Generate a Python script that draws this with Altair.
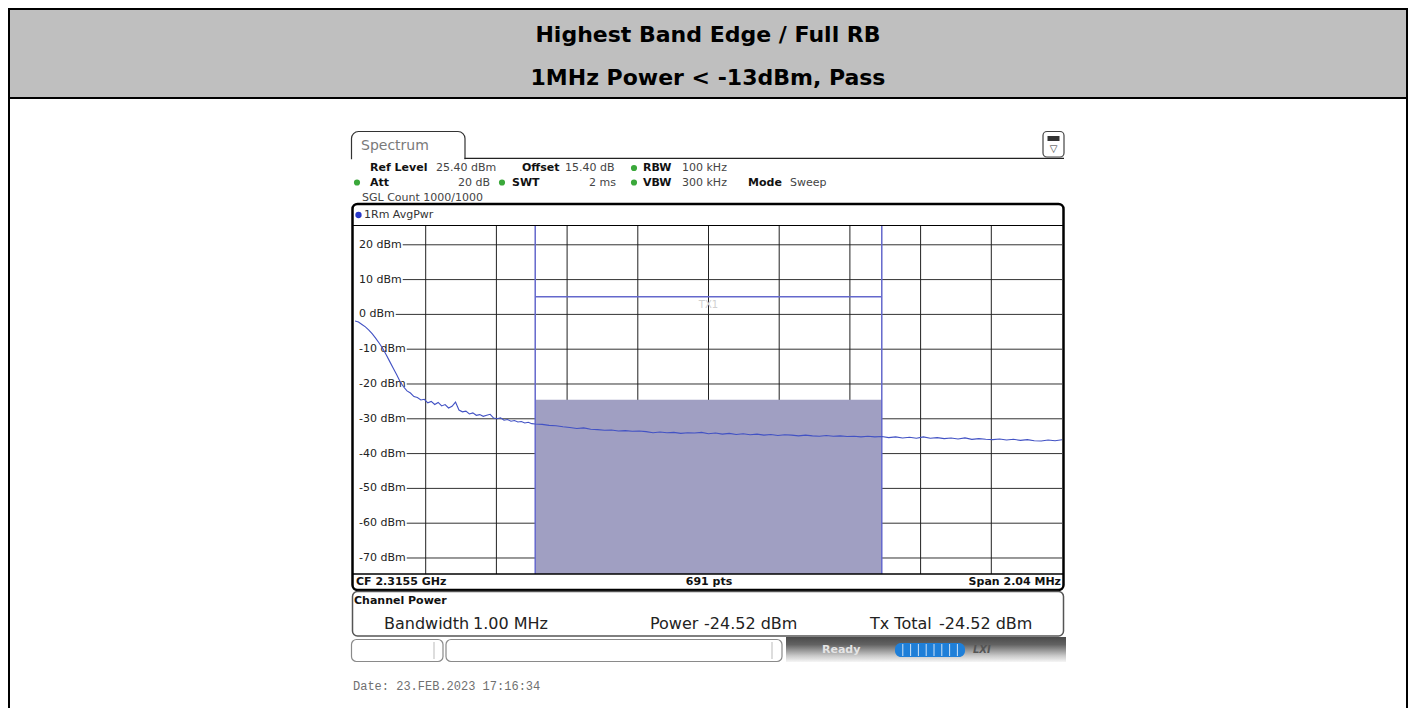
import altair as alt
import pandas as pd

# ---------------- data ----------------
CENTER_MHZ = 2315.5
SPAN_MHZ = 2.04
Y_TOP_DBM = 25.4
Y_BOTTOM_DBM = -74.6

trace_offset_mhz = [
    0.000, 0.010, 0.020, 0.030, 0.040, 0.050, 0.060, 0.070, 0.080, 0.090,
    0.100, 0.110, 0.120, 0.130, 0.140, 0.150, 0.160, 0.170, 0.180, 0.190,
    0.200, 0.210, 0.220, 0.230, 0.240, 0.250, 0.260, 0.270, 0.280, 0.290,
    0.300, 0.310, 0.320, 0.330, 0.340, 0.350, 0.360, 0.370, 0.380, 0.390,
    0.400, 0.410, 0.420, 0.430, 0.440, 0.450, 0.460, 0.470, 0.480, 0.490,
    0.500, 0.510, 0.520, 0.540, 0.560, 0.580, 0.600, 0.620, 0.640, 0.660,
    0.680, 0.700, 0.720, 0.740, 0.760, 0.780, 0.800, 0.820, 0.840, 0.860,
    0.880, 0.900, 0.920, 0.940, 0.960, 0.980, 1.000, 1.020, 1.040, 1.060,
    1.080, 1.100, 1.120, 1.140, 1.160, 1.180, 1.200, 1.220, 1.240, 1.260,
    1.280, 1.300, 1.320, 1.340, 1.360, 1.380, 1.400, 1.420, 1.440, 1.460,
    1.480, 1.500, 1.520, 1.540, 1.560, 1.580, 1.600, 1.620, 1.640, 1.660,
    1.680, 1.700, 1.720, 1.740, 1.760, 1.780, 1.800, 1.820, 1.840, 1.860,
    1.880, 1.900, 1.920, 1.940, 1.960, 1.980, 2.000, 2.020, 2.040,
]
trace_dbm = [
    -1.9, -2.2, -2.9, -3.6, -4.5, -5.6, -6.9, -8.3, -9.8, -11.6,
    -13.5, -15.4, -17.3, -19.3, -20.8, -22.0, -22.6, -23.6, -23.9, -24.6,
    -24.4, -25.4, -25.0, -25.9, -25.3, -26.3, -25.9, -26.9, -26.4, -25.2,
    -27.5, -28.0, -27.8, -28.6, -28.3, -29.0, -28.8, -29.3, -29.0, -28.7,
    -29.8, -30.0, -29.7, -30.4, -30.2, -30.7, -30.5, -30.9, -30.8, -31.2,
    -31.0, -31.4, -31.5, -31.6, -31.9, -32.0, -32.3, -32.5, -32.8, -32.6,
    -33.0, -33.1, -33.3, -33.2, -33.5, -33.4, -33.6, -33.5, -33.7, -34.0,
    -33.8, -34.0, -33.9, -34.2, -34.0, -34.1, -33.9, -34.3, -34.1, -34.4,
    -34.2, -34.5, -34.3, -34.6, -34.4, -34.7, -34.5, -34.8, -34.6, -34.7,
    -34.9, -34.7, -34.9, -35.0, -34.8, -35.0, -34.9, -35.1, -35.0, -35.2,
    -35.0, -35.2, -35.1, -35.4, -35.2, -35.5, -35.3, -35.6, -35.2, -35.6,
    -35.4, -35.7, -35.5, -35.8, -35.5, -35.9, -35.7, -35.9, -36.0, -35.8,
    -36.1, -35.9, -36.2, -36.0, -36.3, -36.4, -36.1, -36.3, -36.0,
]

channel_edges_mhz = [2315.0, 2316.0]
channel_power_dbm = -24.52
channel_line_dbm = 5.1

level_ticks_dbm = [20, 10, 0, -10, -20, -30, -40, -50, -60, -70]
level_tick_labels = ["20 dBm", "10 dBm", "0 dBm", "-10 dBm", "-20 dBm",
                     "-30 dBm", "-40 dBm", "-50 dBm", "-60 dBm", "-70 dBm"]
freq_grid_mhz = [2314.684, 2314.888, 2315.092, 2315.296, 2315.500,
                 2315.704, 2315.908, 2316.112, 2316.316]

# ---------------- layout ----------------
F0 = CENTER_MHZ - SPAN_MHZ / 2
F1 = CENTER_MHZ + SPAN_MHZ / 2
OX, OY = 355, 226          # page position of plot area
PW, PH = 707, 348          # plot area size
FONT = "DejaVu Sans"


def px(p):
    return p - OX


def py(q):
    return q - OY


ONE = pd.DataFrame({"k": [0]})


def R(x1, y1, x2, y2, **kw):
    return alt.Chart(ONE).mark_rect(**kw).encode(
        x=alt.value(px(x1)), x2=alt.value(px(x2)),
        y=alt.value(py(y1)), y2=alt.value(py(y2)))


def L(x1, y1, x2, y2, color="#000", width=1.0, **kw):
    return alt.Chart(ONE).mark_rule(color=color, strokeWidth=width, **kw).encode(
        x=alt.value(px(x1)), x2=alt.value(px(x2)),
        y=alt.value(py(y1)), y2=alt.value(py(y2)))


def T(x, y, s, size=11, weight="normal", color="#222", align="left", font=FONT, **kw):
    return alt.Chart(ONE).mark_text(
        align=align, baseline="middle", font=font, fontSize=size,
        fontWeight=weight, color=color, **kw).encode(
        x=alt.value(px(x)), y=alt.value(py(y)), text=alt.value(s))


def DOT(x, y, color="#3aa83a", size=38):
    return alt.Chart(ONE).mark_circle(color=color, size=size, opacity=1).encode(
        x=alt.value(px(x)), y=alt.value(py(y)))


xs = alt.Scale(domain=[F0, F1], nice=False, zero=False)
ys = alt.Scale(domain=[Y_BOTTOM_DBM, Y_TOP_DBM], nice=False, zero=False)

layers = []

# ---- document table header ----
layers += [
    R(10, 10, 1406, 97, color="#BFBFBF"),
    L(8, 9, 1408, 9, width=2),
    L(8, 98, 1408, 98, width=2),
    L(9, 8, 9, 708, width=2),
    L(1407, 8, 1407, 708, width=2),
    T(708, 35, "Highest Band Edge / Full RB", size=22, weight="bold", color="#000", align="center"),
    T(708, 78, "1MHz Power < -13dBm, Pass", size=22, weight="bold", color="#000", align="center"),
]

# ---- spectrum window frames ----
layers += [
    R(351.5, 131.5, 465, 170, color="white", stroke="#333", strokeWidth=1.2,
      cornerRadiusTopLeft=7, cornerRadiusTopRight=7),
    R(349, 159.2, 467, 172, color="white"),
    L(464.5, 158.3, 1064, 158.3, color="#222", width=1.3),
    R(1043, 131.5, 1064, 157, color="white", stroke="#444", strokeWidth=1.2, cornerRadius=4),
    R(1047.5, 136, 1059.5, 141, color="#333"),
    T(1053.5, 149, "▽", size=10, color="#333", align="center"),
    T(361, 146, "Spectrum", size=14, color="#7a7a7a"),
    # diagram frame
    R(352.5, 204, 1063.5, 590, color="white", stroke="#000", strokeWidth=2.5, cornerRadius=5),
    R(352.5, 591.5, 1063.5, 636, color="white", stroke="#555", strokeWidth=1.5, cornerRadius=5),
]

# ---- info texts ----
y1, y2, y3 = 168, 182.5, 197.5
layers += [
    T(370, y1, "Ref Level", weight="bold", color="#111"),
    T(436, y1, "25.40 dBm", color="#444"),
    T(522, y1, "Offset", weight="bold", color="#111"),
    T(565, y1, "15.40 dB", color="#444"),
    DOT(634, y1),
    T(643, y1, "RBW", weight="bold", color="#111"),
    T(682, y1, "100 kHz", color="#444"),
    DOT(357, y2),
    T(370, y2, "Att", weight="bold", color="#111"),
    T(490, y2, "20 dB", color="#444", align="right"),
    DOT(502, y2),
    T(512, y2, "SWT", weight="bold", color="#111"),
    T(616, y2, "2 ms", color="#444", align="right"),
    DOT(634, y2),
    T(643, y2, "VBW", weight="bold", color="#111"),
    T(682, y2, "300 kHz", color="#444"),
    T(748, y2, "Mode", weight="bold", color="#111"),
    T(790, y2, "Sweep", color="#444"),
    T(362, y3, "SGL Count 1000/1000", color="#444"),
    DOT(358.5, 215, color="#2838c8", size=40),
    T(364, 215, "1Rm AvgPwr", color="#333"),
    L(352, 225.5, 1063, 225.5, color="#000", width=1.2),
]

# ---- grid ----
CW = {"0": .636, "1": .636, "2": .636, "3": .636, "4": .636, "5": .636, "6": .636,
      "7": .636, "8": .636, "9": .636, " ": .318, "d": .635, "B": .686, "m": .974, "-": .361}


def label_end_mhz(lbl):
    end_page = 359 + 11 * sum(CW.get(c, .6) for c in lbl) + 1
    return F0 + (end_page - OX) / PW * SPAN_MHZ


hgrid = pd.DataFrame({
    "lvl": level_ticks_dbm,
    "label": level_tick_labels,
    "x0": [label_end_mhz(l) for l in level_tick_labels],
    "x1": [F1] * len(level_ticks_dbm),
})
vgrid = pd.DataFrame({"f": freq_grid_mhz})

layers += [
    alt.Chart(hgrid).mark_rule(color="#333", strokeWidth=1).encode(
        x=alt.X("x0:Q", scale=xs, axis=None), x2="x1:Q",
        y=alt.Y("lvl:Q", scale=ys, axis=None)),
    alt.Chart(vgrid).mark_rule(color="#222", strokeWidth=1).encode(
        x=alt.X("f:Q", scale=xs, axis=None), y=alt.value(0), y2=alt.value(PH)),
    alt.Chart(hgrid).mark_text(align="left", baseline="middle", font=FONT, fontSize=11,
                               color="#222").encode(
        x=alt.value(px(359)), y=alt.Y("lvl:Q", scale=ys, axis=None), text="label:N"),
]

# ---- channel power region ----
chan = pd.DataFrame({"f0": [channel_edges_mhz[0]], "f1": [channel_edges_mhz[1]],
                     "p0": [Y_BOTTOM_DBM], "p1": [channel_power_dbm],
                     "lim": [channel_line_dbm], "fc": [sum(channel_edges_mhz) / 2],
                     "lab": ["TX1"]})
edges = pd.DataFrame({"f": channel_edges_mhz})
layers += [
    alt.Chart(chan).mark_rect(color="#A09FC2").encode(
        x=alt.X("f0:Q", scale=xs, axis=None), x2="f1:Q",
        y=alt.Y("p0:Q", scale=ys, axis=None), y2="p1:Q"),
    alt.Chart(edges).mark_rule(color="#6468cc", strokeWidth=1.5).encode(
        x=alt.X("f:Q", scale=xs, axis=None), y=alt.value(0), y2=alt.value(PH)),
    alt.Chart(chan).mark_rule(color="#6468cc", strokeWidth=1.5).encode(
        x=alt.X("f0:Q", scale=xs, axis=None), x2="f1:Q",
        y=alt.Y("lim:Q", scale=ys, axis=None)),
    alt.Chart(chan).mark_text(font=FONT, fontSize=10, color="#d0d0d0", baseline="middle",
                              dy=8).encode(
        x=alt.X("fc:Q", scale=xs, axis=None), y=alt.Y("lim:Q", scale=ys, axis=None),
        text="lab:N"),
    L(353, 574, 1063, 574, color="#000", width=1.3),
]

# ---- trace ----
trace = pd.DataFrame({"f": [F0 + o for o in trace_offset_mhz], "p": trace_dbm})
layers.append(
    alt.Chart(trace).mark_line(color="#4252c4", strokeWidth=1.1, clip=True).encode(
        x=alt.X("f:Q", scale=xs, axis=None), y=alt.Y("p:Q", scale=ys, axis=None)))

# ---- footer texts ----
layers += [
    T(356, 582, "CF 2.3155 GHz", weight="bold", color="#111"),
    T(709, 582, "691 pts", weight="bold", color="#111", align="center"),
    T(1061, 582, "Span 2.04 MHz", weight="bold", color="#111", align="right"),
    T(354, 600.5, "Channel Power", weight="bold", color="#111"),
    T(384, 624, "Bandwidth", size=16, color="#222"),
    T(473, 624, "1.00 MHz", size=16, color="#222"),
    T(650, 624, "Power", size=16, color="#222"),
    T(704, 624, "-24.52 dBm", size=16, color="#222"),
    T(870, 624, "Tx Total", size=16, color="#222"),
    T(939, 624, "-24.52 dBm", size=16, color="#222"),
]

# ---- status bar ----
grad = alt.LinearGradient(gradient="linear", x1=0, x2=0, y1=0, y2=1, stops=[
    alt.GradientStop(color="#4a4a4a", offset=0),
    alt.GradientStop(color="#626262", offset=0.3),
    alt.GradientStop(color="#c9c9c9", offset=0.75),
    alt.GradientStop(color="#f6f6f6", offset=1)])
layers += [
    R(351.5, 639.5, 443, 661.5, color="white", stroke="#8a8a8a", strokeWidth=1.2, cornerRadius=5),
    L(434, 642, 434, 659, color="#bbb"),
    R(446, 639.5, 782, 661.5, color="white", stroke="#8a8a8a", strokeWidth=1.2, cornerRadius=5),
    L(772, 642, 772, 659, color="#bbb"),
    alt.Chart(ONE).mark_rect(fill=grad).encode(
        x=alt.value(px(786)), x2=alt.value(px(1066)),
        y=alt.value(py(637)), y2=alt.value(py(662))),
    T(822, 650, "Ready", weight="bold", color="#e4e4e4"),
    R(895, 643, 965, 657, color="#1f7fd8", cornerRadius=6),
]
for i in range(1, 9):
    xd = 895 + i * 7.8
    layers.append(L(xd, 644, xd, 656, color="#cfe3f7", width=1))
layers += [
    T(973, 650, "LXI", size=10, weight="bold", color="#555", fontStyle="italic"),
    T(353, 686, "Date: 23.FEB.2023  17:16:34", size=12, color="#707070", font="Liberation Mono"),
]

chart = alt.layer(*layers).properties(
    width=PW, height=PH,
    padding={"left": OX - 8, "top": OY - 8, "right": 1400 - (OX - 8) - PW,
             "bottom": 700 - (OY - 8) - PH},
    autosize=alt.AutoSizeParams(type="none"),
    background="white",
).configure_view(strokeWidth=0)

chart.save("out.html", embed_options={"renderer": "svg", "actions": False})
